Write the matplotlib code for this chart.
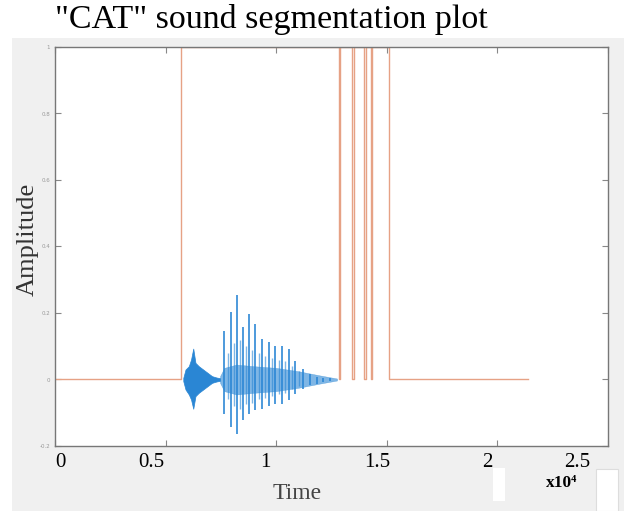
"""
"CAT" sound segmentation plot (waveform + segmentation step)
"""
import numpy as np
import matplotlib
matplotlib.use('Agg')
from matplotlib import pyplot as plt
from matplotlib import patches
from matplotlib.transforms import ScaledTranslation

# segmentation step signal: intervals where the mask is 1
seg_on = [5700, 12900, 13510, 14050, 14350]
seg_off = [12830, 13430, 13950, 14300, 15080]
seg_end = 21400

# initial consonant burst envelope
burst_t = [5800, 5900, 6050, 6150, 6250, 6350, 6500, 6700, 6900, 7100, 7300, 7460]
burst_hi = [0.005, 0.03, 0.04, 0.06, 0.093, 0.05, 0.04, 0.03, 0.02, 0.01, 0.006, 0.004]
burst_lo = [-0.005, -0.03, -0.045, -0.06, -0.088, -0.05, -0.04, -0.03, -0.02, -0.01, -0.006, -0.004]

# voiced part: background envelope
voiced_t = [7460, 7650, 8200, 9000, 10000, 11000, 12000, 12500, 12750]
voiced_hi = [0.01, 0.035, 0.045, 0.04, 0.035, 0.025, 0.012, 0.006, 0.003]
voiced_lo = [-0.01, -0.035, -0.045, -0.04, -0.035, -0.025, -0.012, -0.006, -0.003]

# voiced part: main pitch pulses
pulse_t = [7655, 7957, 8213, 8485, 8757, 9057, 9358, 9660, 9960, 10262,
           10565, 10863, 11197, 11528, 11830, 12130, 12432]
pulse_hi = [0.147, 0.203, 0.253, 0.157, 0.198, 0.167, 0.122, 0.112, 0.102,
            0.102, 0.092, 0.057, 0.032, 0.017, 0.007, 0.005, 0.004]
pulse_lo = [-0.103, -0.143, -0.163, -0.123, -0.103, -0.093, -0.088, -0.081,
            -0.075, -0.073, -0.063, -0.043, -0.028, -0.018, -0.013, -0.008, -0.006]

# secondary peaks between pulses
sec_t = [7800, 8090, 8350, 8620, 8900, 9200, 9500, 9810, 10110, 10410, 10710, 11030]
sec_hi = [0.08, 0.11, 0.12, 0.1, 0.09, 0.08, 0.07, 0.065, 0.06, 0.055, 0.04, 0.025]
sec_lo = [-0.06, -0.08, -0.09, -0.075, -0.07, -0.06, -0.055, -0.05, -0.045, -0.04, -0.03, -0.02]

xtick_vals = [0, 5000, 10000, 15000, 20000, 25000]
xtick_labels = ['0', '0.5', '1', '1.5', '2', '2.5']
ytick_vals = [-0.2, 0, 0.2, 0.4, 0.6, 0.8, 1]
ytick_labels = ['-0.2', '0', '0.2', '0.4', '0.6', '0.8', '1']

# the big x labels were pasted slightly off their ticks (pixels)
xlabel_nudge = [5, -14, -11, -10, -10, -31]

BLUE = '#2a86d4'
ORANGE = '#e6a285'
SERIF = ['Liberation Serif', 'DejaVu Serif']

fig = plt.figure(figsize=(6.24, 5.11), dpi=100, facecolor='white')

# grey matlab figure background
fig.patches.append(patches.Rectangle((12 / 624, 0), 1, 1 - 38 / 511,
                                     transform=fig.transFigure,
                                     facecolor='#f0f0f0', edgecolor='none',
                                     zorder=-10))

ax = fig.add_axes([55 / 624, 1 - 446 / 511, 553 / 624, 399 / 511])

# waveform
ax.fill_between(burst_t, burst_lo, burst_hi, color=BLUE, lw=0.5)
ax.fill_between(voiced_t, voiced_lo, voiced_hi, color=BLUE, lw=0.3, alpha=0.6)
ax.vlines(sec_t, sec_lo, sec_hi, color=BLUE, lw=1.0, alpha=0.6)
ax.vlines(pulse_t, pulse_lo, pulse_hi, color=BLUE, lw=1.3, alpha=0.9)

# segmentation step
step_x = [0]
step_y = [0]
for on, off in zip(seg_on, seg_off):
    step_x += [on, on, off, off]
    step_y += [0, 1, 1, 0]
step_x.append(seg_end)
step_y.append(0)
ax.plot(step_x, step_y, color=ORANGE, lw=1.0)

ax.set_xlim(0, 25000)
ax.set_ylim(-0.2, 1)
ax.set_xticks(xtick_vals)
ax.set_xticklabels(xtick_labels, family=SERIF, fontsize=15)
ax.set_yticks(ytick_vals)
ax.set_yticklabels(ytick_labels, fontsize=4, color='#999999')
ax.tick_params(direction='in', top=True, right=True, length=4,
               color='#888888', width=0.8)
ax.tick_params(axis='x', pad=5)
for lab, dx in zip(ax.get_xticklabels(), xlabel_nudge):
    lab.set_transform(lab.get_transform() +
                      ScaledTranslation(dx / 100, 0, fig.dpi_scale_trans))
for sp in ax.spines.values():
    sp.set_color('#777777')
    sp.set_linewidth(1.0)

fig.text(55 / 624, 1 - 19 / 511, '"CAT" sound segmentation plot',
         family=SERIF, fontsize=24.5, va='center', ha='left')
fig.text(28 / 624, 1 - 239 / 511, 'Amplitude', family=SERIF, fontsize=19,
         rotation=90, va='center', ha='center', color='#333333')
fig.text(297 / 624, 1 - 493 / 511, 'Time', family=SERIF, fontsize=17,
         va='center', ha='center', color='#444444')
fig.text(562 / 624, 1 - 483 / 511, 'x10\u2074', family=SERIF, fontsize=12.5,
         fontweight='bold', va='center', ha='center')

# white patches left over in the screenshot
fig.patches.append(patches.Rectangle((493 / 624, 1 - 501 / 511), 12 / 624, 33 / 511,
                                     transform=fig.transFigure,
                                     facecolor='white', edgecolor='none'))
fig.patches.append(patches.Rectangle((596 / 624, 0), 22 / 624, 42 / 511,
                                     transform=fig.transFigure,
                                     facecolor='white', edgecolor='#dddddd', lw=0.8))

fig.savefig('out.png', dpi=100, facecolor=fig.get_facecolor())
